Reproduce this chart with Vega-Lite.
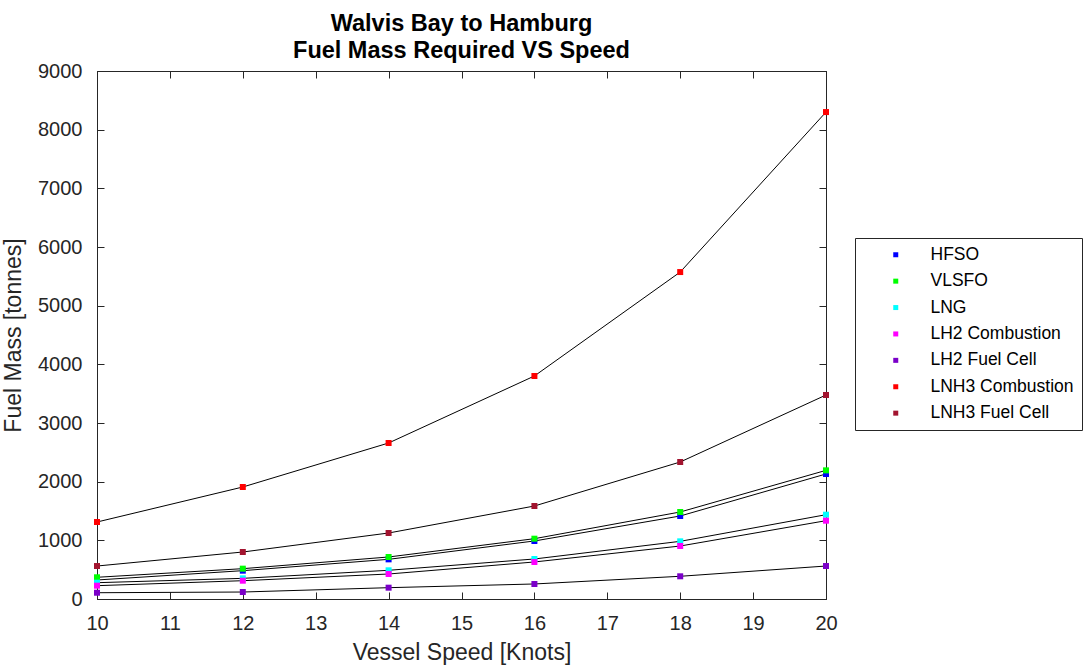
{
  "$schema": "https://vega.github.io/schema/vega-lite/v6.json",
  "width": 729,
  "height": 528,
  "autosize": "none",
  "padding": {"left": 97, "top": 71, "right": 260, "bottom": 66},
  "background": "white",
  "config": {
    "font": "Liberation Sans",
    "view": {"stroke": "#262626", "strokeWidth": 1},
    "axis": {"grid": false, "domainColor": "#262626", "tickColor": "#262626", "labelColor": "#262626", "titleColor": "#262626", "labelFont": "Liberation Sans", "titleFont": "Liberation Sans", "labelFontSize": 20, "titleFontSize": 23, "titleFontWeight": "normal", "tickSize": -7, "domainWidth": 1, "labelFlush": false, "labelOverlap": false}
  },
  "title": {"text": ["Walvis Bay to Hamburg", "Fuel Mass Required VS Speed"], "font": "Liberation Sans", "fontSize": 23.5, "fontWeight": "bold", "color": "#000000", "anchor": "middle", "lineHeight": 27, "offset": -1},
  "data": {"values": [
    {"speed": 10, "fuel": "HFSO", "mass": 324},
    {"speed": 12, "fuel": "HFSO", "mass": 483},
    {"speed": 14, "fuel": "HFSO", "mass": 676},
    {"speed": 16, "fuel": "HFSO", "mass": 989},
    {"speed": 18, "fuel": "HFSO", "mass": 1415},
    {"speed": 20, "fuel": "HFSO", "mass": 2131},
    {"speed": 10, "fuel": "VLSFO", "mass": 370},
    {"speed": 12, "fuel": "VLSFO", "mass": 517},
    {"speed": 14, "fuel": "VLSFO", "mass": 716},
    {"speed": 16, "fuel": "VLSFO", "mass": 1028},
    {"speed": 18, "fuel": "VLSFO", "mass": 1483},
    {"speed": 20, "fuel": "VLSFO", "mass": 2193},
    {"speed": 10, "fuel": "LNG", "mass": 278},
    {"speed": 12, "fuel": "LNG", "mass": 352},
    {"speed": 14, "fuel": "LNG", "mass": 489},
    {"speed": 16, "fuel": "LNG", "mass": 682},
    {"speed": 18, "fuel": "LNG", "mass": 983},
    {"speed": 20, "fuel": "LNG", "mass": 1437},
    {"speed": 10, "fuel": "LH2 Combustion", "mass": 227},
    {"speed": 12, "fuel": "LH2 Combustion", "mass": 312},
    {"speed": 14, "fuel": "LH2 Combustion", "mass": 426},
    {"speed": 16, "fuel": "LH2 Combustion", "mass": 631},
    {"speed": 18, "fuel": "LH2 Combustion", "mass": 903},
    {"speed": 20, "fuel": "LH2 Combustion", "mass": 1335},
    {"speed": 10, "fuel": "LH2 Fuel Cell", "mass": 107},
    {"speed": 12, "fuel": "LH2 Fuel Cell", "mass": 119},
    {"speed": 14, "fuel": "LH2 Fuel Cell", "mass": 193},
    {"speed": 16, "fuel": "LH2 Fuel Cell", "mass": 256},
    {"speed": 18, "fuel": "LH2 Fuel Cell", "mass": 387},
    {"speed": 20, "fuel": "LH2 Fuel Cell", "mass": 562},
    {"speed": 10, "fuel": "LNH3 Combustion", "mass": 1312},
    {"speed": 12, "fuel": "LNH3 Combustion", "mass": 1909},
    {"speed": 14, "fuel": "LNH3 Combustion", "mass": 2659},
    {"speed": 16, "fuel": "LNH3 Combustion", "mass": 3801},
    {"speed": 18, "fuel": "LNH3 Combustion", "mass": 5573},
    {"speed": 20, "fuel": "LNH3 Combustion", "mass": 8300},
    {"speed": 10, "fuel": "LNH3 Fuel Cell", "mass": 562},
    {"speed": 12, "fuel": "LNH3 Fuel Cell", "mass": 801},
    {"speed": 14, "fuel": "LNH3 Fuel Cell", "mass": 1125},
    {"speed": 16, "fuel": "LNH3 Fuel Cell", "mass": 1585},
    {"speed": 18, "fuel": "LNH3 Fuel Cell", "mass": 2335},
    {"speed": 20, "fuel": "LNH3 Fuel Cell", "mass": 3477}
  ]},
  "layer": [
    {
      "mark": {"type": "line", "color": "#000000", "strokeWidth": 1},
      "encoding": {
        "x": {"field": "speed", "type": "quantitative", "scale": {"domain": [10, 20], "nice": false, "zero": false}, "axis": {"title": "Vessel Speed [Knots]", "values": [10, 11, 12, 13, 14, 15, 16, 17, 18, 19, 20], "format": "d", "labelPadding": 21, "titlePadding": 8}},
        "y": {"field": "mass", "type": "quantitative", "scale": {"domain": [0, 9000], "nice": false}, "axis": {"title": "Fuel Mass [tonnes]", "values": [0, 1000, 2000, 3000, 4000, 5000, 6000, 7000, 8000, 9000], "format": "d", "labelPadding": 22, "titlePadding": 12}},
        "detail": {"field": "fuel"}
      }
    },
    {
      "mark": {"type": "point", "shape": "square", "filled": true, "opacity": 1, "size": 36},
      "encoding": {
        "x": {"field": "speed", "type": "quantitative", "axis": {"orient": "top", "title": null, "labels": false, "values": [10, 11, 12, 13, 14, 15, 16, 17, 18, 19, 20]}},
        "y": {"field": "mass", "type": "quantitative", "axis": {"orient": "right", "title": null, "labels": false, "values": [0, 1000, 2000, 3000, 4000, 5000, 6000, 7000, 8000, 9000]}},
        "color": {"field": "fuel", "type": "nominal",
          "scale": {"domain": ["HFSO", "VLSFO", "LNG", "LH2 Combustion", "LH2 Fuel Cell", "LNH3 Combustion", "LNH3 Fuel Cell"], "range": ["#0000ff", "#00ff00", "#00ffff", "#ff00ff", "#7a00c8", "#ff0000", "#a2142f"]},
          "legend": {"title": null, "orient": "none", "legendX": 758, "legendY": 167, "symbolType": "square", "symbolSize": 25, "labelFontSize": 17.5, "labelFont": "Liberation Sans", "labelColor": "#000000", "strokeColor": "#262626", "padding": 8, "rowPadding": 7.4, "symbolOffset": 24, "labelOffset": 26, "fillColor": "white", "labelLimit": 300}
        }
      }
    }
  ],
  "resolve": {"axis": {"x": "independent", "y": "independent"}}
}
